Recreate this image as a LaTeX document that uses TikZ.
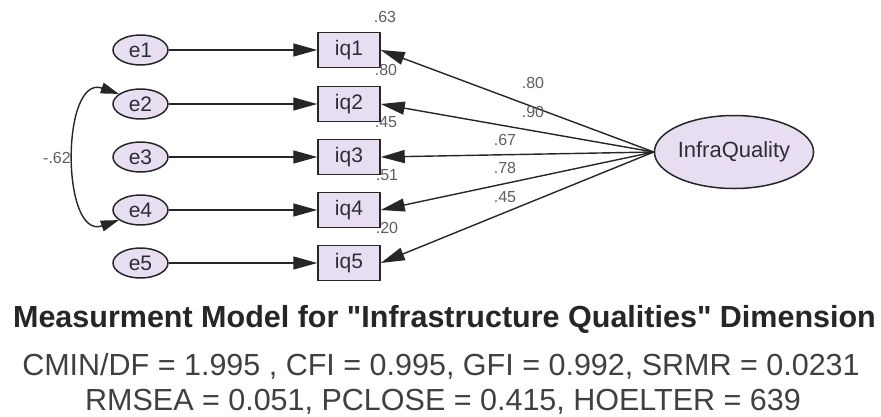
\documentclass[tikz,border=0pt]{standalone}
\usepackage{fontspec}
\setmainfont{Liberation Sans}[Ligatures=TeXOff]
\usetikzlibrary{arrows.meta,shapes.geometric}
\definecolor{nodefill}{RGB}{232,222,242}
\definecolor{edgecol}{RGB}{38,38,38}
\definecolor{labcol}{RGB}{95,95,95}
\definecolor{textcol}{RGB}{45,45,55}
\tikzset{
  err/.style={ellipse, draw=edgecol, line width=1.5pt, fill=nodefill,
    minimum width=55pt, minimum height=30pt, inner sep=0pt,
    text=textcol, font=\fontsize{21}{21}\selectfont},
  obs/.style={rectangle, draw=edgecol, line width=1.5pt, fill=nodefill,
    minimum width=62pt, minimum height=35pt, inner sep=0pt,
    text=textcol, font=\fontsize{21}{21}\selectfont},
  lat/.style={ellipse, draw=edgecol, line width=1.5pt, fill=nodefill,
    minimum width=158pt, minimum height=73pt, inner sep=0pt,
    text=textcol, font=\fontsize{22}{22}\selectfont},
  regpath/.style={draw=edgecol, line width=1.4pt,
    -{Triangle[length=24pt,width=13pt]}},
  covpath/.style={draw=edgecol, line width=1.4pt,
    {Triangle[length=18pt,width=11pt]}-{Triangle[length=18pt,width=11pt]}},
  est/.style={text=labcol, inner sep=0pt, font=\fontsize{16}{16}\selectfont},
  caption/.style={anchor=base, inner sep=0pt},
}
\begin{document}
\begin{tikzpicture}[x=1pt,y=-1pt]
  \useasboundingbox (0,0) rectangle (881,416);
  \fill[white] (0,0) rectangle (881,416);

  % error terms
  \node[err] (e1) at (140.5,50)  {e1};
  \node[err] (e2) at (140.5,104) {e2};
  \node[err] (e3) at (140.5,157) {e3};
  \node[err] (e4) at (140.5,210) {e4};
  \node[err] (e5) at (140.5,263) {e5};

  % observed indicators
  \node[obs] (iq1) at (349,50)  {iq1};
  \node[obs] (iq2) at (349,104) {iq2};
  \node[obs] (iq3) at (349,157) {iq3};
  \node[obs] (iq4) at (349,210) {iq4};
  \node[obs] (iq5) at (349,263) {iq5};

  % latent factor
  \node[lat] (lat) at (734,152) {InfraQuality};

  % error paths
  \foreach \i in {1,...,5}
    \draw[regpath] (e\i.east) -- (iq\i.west);

  % factor loadings
  \foreach \i in {1,...,5}
    \draw[regpath] (lat.west) -- (iq\i.east);

  % error covariance
  \draw[covpath] (e2.155) .. controls +(-58,-20) and +(-58,20) .. (e4.205);
  \node[est] (cov) at (57,158) {-.62};

  % squared multiple correlations
  \node[est] (r1) at (385,17)  {.63};
  \node[est] (r2) at (386,70)  {.80};
  \node[est] (r3) at (386,122) {.45};
  \node[est] (r4) at (387,175) {.51};
  \node[est] (r5) at (387,228) {.20};

  % standardized loadings
  \node[est] (l1) at (533,83)  {.80};
  \node[est] (l2) at (533,112) {.90};
  \node[est] (l3) at (505,140) {.67};
  \node[est] (l4) at (505,168) {.78};
  \node[est] (l5) at (505,197) {.45};

  % caption and fit indices
  \node[caption, text=black!85, font=\fontsize{30.5}{30.5}\selectfont\bfseries]
    (title) at (444.5,327) {Measurment Model for "Infrastructure Qualities" Dimension};
  \node[caption, text=black!75, font=\fontsize{30.5}{30.5}\selectfont]
    (fit1) at (441,375) {CMIN/DF = 1.995 , CFI = 0.995, GFI = 0.992, SRMR = 0.0231};
  \node[caption, text=black!75, font=\fontsize{30.5}{30.5}\selectfont]
    (fit2) at (443,410) {RMSEA = 0.051, PCLOSE = 0.415, HOELTER = 639};
\end{tikzpicture}
\end{document}
